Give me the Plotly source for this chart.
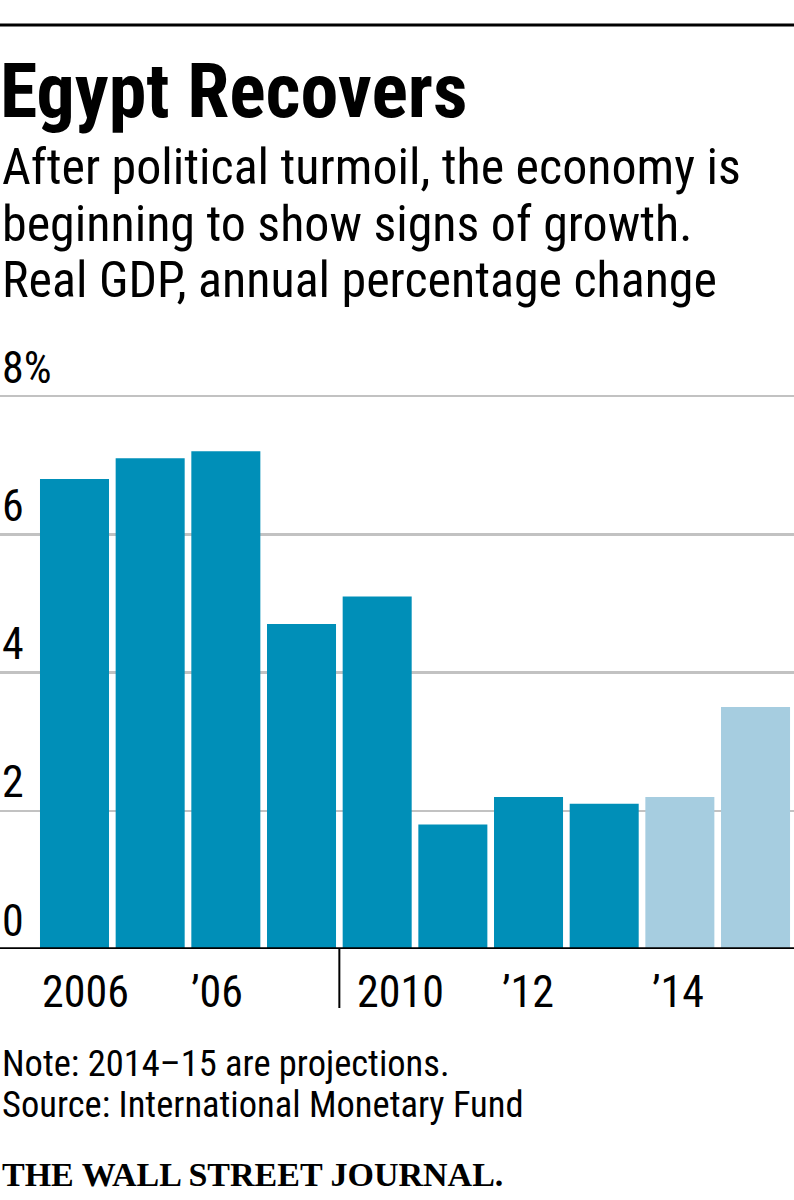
import plotly.graph_objects as go

# ---- data ----
years = [2006, 2007, 2008, 2009, 2010, 2011, 2012, 2013, 2014, 2015]
gdp_growth = [6.8, 7.1, 7.2, 4.7, 5.1, 1.8, 2.2, 2.1, 2.2, 3.5]
projection = [False, False, False, False, False, False, False, False, True, True]
x_tick_index = [0, 2, 4, 6, 8]
x_tick_labels = ["2006", "\u201906", "2010", "\u201912", "\u201914"]
y_tick_values = [0, 2, 4, 6, 8]
y_tick_labels = ["0", "2", "4", "6", "8%"]

title = "Egypt Recovers"
subtitle_lines = [
    "After political turmoil, the economy is",
    "beginning to show signs of growth.",
    "Real GDP, annual percentage change",
]
note = "Note: 2014\u201315 are projections."
source = "Source: International Monetary Fund"
brand = "THE WALL STREET JOURNAL."

# ---- style ----
W, H = 794, 1200
DARK = "#008fb8"
LIGHT = "#a6cde0"
GRID = "#c2c2c2"
SANS = "Roboto Condensed"
SERIF = "Liberation Serif"

px_per_cat = 75.67
first_center_px = 74.5
x0 = -first_center_px / px_per_cat
x1 = x0 + W / px_per_cat

base_px, top8_px = 949, 396
px_per_unit = (base_px - top8_px) / 8
y_top = 8.3
dom_bottom = (H - base_px) / H
dom_top = (H - (base_px - y_top * px_per_unit)) / H

xs = list(range(len(years)))
colors = [LIGHT if p else DARK for p in projection]

fig = go.Figure(go.Bar(
    x=xs, y=gdp_growth, marker=dict(color=colors, line=dict(width=0)),
    width=0.912, hoverinfo="skip",
    customdata=years,
))


def paper_y_for_baseline(baseline_px, size, descent=0.244):
    return 1 - (baseline_px + descent * size + 1) / H


annotations = []
annotations.append(dict(text=f"<b>{title}</b>", xref="paper", yref="paper", x=0, xanchor="left",
                        xshift=-2,
                        y=paper_y_for_baseline(118, 76), yanchor="bottom", showarrow=False,
                        font=dict(family=SANS, size=76, color="#000")))
for line, b in zip(subtitle_lines, [185, 242, 298]):
    annotations.append(dict(text=line, xref="paper", yref="paper", x=0, xanchor="left",
                            y=paper_y_for_baseline(b, 50), yanchor="bottom", showarrow=False,
                            font=dict(family=SANS, size=50, color="#000")))
for v, lab in zip(y_tick_values, y_tick_labels):
    annotations.append(dict(text=lab, xref="paper", yref="y", x=0, xanchor="left",
                            y=v, yanchor="bottom", yshift=12 - (0.244 * 44 + 1), showarrow=False,
                            font=dict(family=SANS, size=44, color="#000")))
label_shift = [0, -2, 12, 6, 5]
for i, lab, s in zip(x_tick_index, x_tick_labels, label_shift):
    annotations.append(dict(text=lab, xref="x", yref="paper", x=i - 0.456, xanchor="left",
                            xshift=s, y=paper_y_for_baseline(1008, 44), yanchor="bottom",
                            showarrow=False, font=dict(family=SANS, size=44, color="#000")))
annotations.append(dict(text=note, xref="paper", yref="paper", x=0, xanchor="left",
                        y=paper_y_for_baseline(1077, 36.5), yanchor="bottom", showarrow=False,
                        font=dict(family=SANS, size=36.5, color="#000")))
annotations.append(dict(text=source, xref="paper", yref="paper", x=0, xanchor="left",
                        y=paper_y_for_baseline(1118, 36.5), yanchor="bottom", showarrow=False,
                        font=dict(family=SANS, size=36.5, color="#000")))
annotations.append(dict(text=f"<b>{brand}</b>", xref="paper", yref="paper", x=0, xanchor="left",
                        y=paper_y_for_baseline(1187, 34, 0.216), yanchor="bottom", showarrow=False,
                        font=dict(family=SERIF, size=34, color="#000")))

shapes = [
    dict(type="line", xref="paper", yref="paper", x0=0, x1=1, y0=1 - 25 / H, y1=1 - 25 / H,
         line=dict(color="#000", width=3)),
    dict(type="line", xref="paper", yref="y", x0=0, x1=1, y0=0, y1=0,
         line=dict(color="#000", width=3.5), layer="above"),
    dict(type="line", xref="x", yref="paper", x0=3.5, x1=3.5, y0=1 - base_px / H,
         y1=1 - 1008 / H, line=dict(color="#000", width=2)),
]

fig.update_layout(
    width=W, height=H, margin=dict(l=0, r=0, t=0, b=0),
    paper_bgcolor="#fff", plot_bgcolor="#fff", showlegend=False,
    xaxis=dict(range=[x0, x1], domain=[0, 1], showgrid=False, showticklabels=False,
               zeroline=False, showline=False, ticks="", fixedrange=True),
    yaxis=dict(range=[0, y_top], domain=[dom_bottom, dom_top], tickvals=[2, 4, 6, 8],
               showgrid=True, gridcolor=GRID, gridwidth=2.5, showticklabels=False,
               zeroline=False, showline=False, ticks="", fixedrange=True),
    annotations=annotations, shapes=shapes,
)

fig.write_html("out.html", config={"displayModeBar": False, "staticPlot": True},
               post_script="document.body.style.margin='0';document.body.style.overflow='hidden';")
